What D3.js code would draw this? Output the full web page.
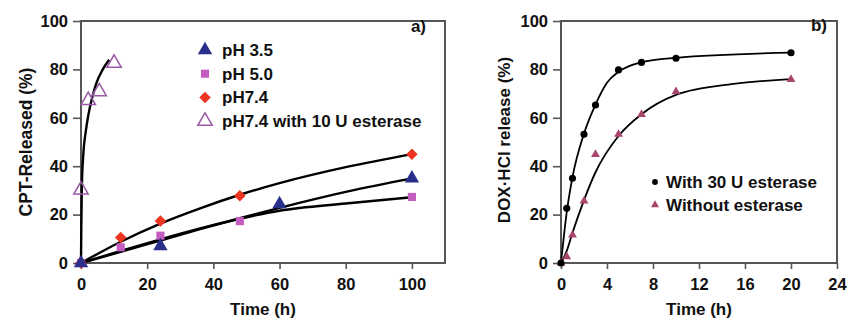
<!DOCTYPE html>
<html>
<head>
<meta charset="utf-8">
<script src="https://cdn.jsdelivr.net/npm/d3@7"></script>
<style>
  body { margin: 0; background: #fff; }
  text { font-family: "Liberation Sans", Arial, sans-serif; font-weight: bold; fill: #111; }
</style>
</head>
<body>
<svg id="chart" width="848" height="322"></svg>
<script>
// panel a) CPT release, time in h
const ph35 = [[0, 0], [24, 7], [60, 24.3], [100, 35]];
const ph50 = [[0, 0], [12, 6.5], [24, 11.3], [48, 17.3], [100, 27.3]];
const ph74 = [[0, 0], [12, 10.5], [24, 17.4], [48, 27.8], [100, 44.9]];
const ph74Est = [[0, 30.2], [2.2, 67.2], [5.5, 70.8], [10, 82.6]];

// fitted curves
const fit35 = [[0, 0], [12, 4.6], [24, 9.3], [36, 14], [48, 18.5], [60, 22.8], [80, 29.4], [100, 35]];
const fit50 = [[0, 0], [12, 5], [24, 9.8], [36, 14.3], [48, 18.3], [60, 21.6], [80, 24.6], [100, 27.2]];
const fit74 = [[0, 0], [12, 8.8], [24, 16.3], [36, 22.6], [48, 28.2], [60, 33], [80, 39.6], [100, 45]];
const fitEst = [[0, 0], [0.1, 16], [0.25, 31], [0.7, 45], [1.4, 54], [2.2, 61], [3.4, 68.5], [4.7, 74.5], [6.5, 79.8], [8.5, 84]];

const legendA = ["pH 3.5", "pH 5.0", "pH7.4", "pH7.4 with 10 U esterase"];
const ticksXA = [0, 20, 40, 60, 80, 100];
const ticksY = [0, 20, 40, 60, 80, 100];

// panel b) DOX·HCl release
const withEst = [[0, 0], [0.5, 22.6], [1, 35], [2, 53.2], [3, 65.3], [5, 79.8], [7, 82.9], [10, 84.6], [20, 86.9]];
const withoutEst = [[0, 0], [0.5, 2.6], [1, 11.6], [2, 25.6], [3, 44.9], [5, 53.2], [7, 61.4], [10, 70.8], [20, 75.9]];
const fitWith = [[0, 0], [0.5, 21], [1, 35.5], [2, 53.5], [3, 65.5], [4, 74.5], [5, 79], [7, 83], [10, 84.8], [20, 86.9]];
const fitWithout = [[0, 0], [0.5, 5], [1, 12.5], [2, 26], [3, 37.5], [5, 52.5], [7, 61.5], [10, 69.5], [15, 74], [20, 76]];
const legendB = ["With 30 U esterase", "Without esterase"];
const ticksXB = [0, 4, 8, 12, 16, 20, 24];

const svg = d3.select("#chart");
const axisColor = "#555";

function frame(g, x, y, xticks, yticks) {
  const [x0, x1] = x.range();
  const [y0, y1] = y.range();
  g.append("rect")
    .attr("x", x0).attr("y", y1)
    .attr("width", x1 - x0).attr("height", y0 - y1)
    .attr("fill", "none").attr("stroke", axisColor).attr("stroke-width", 2);

  const xa = g.append("g").attr("transform", `translate(0,${y0})`)
    .call(d3.axisBottom(x).tickValues(xticks).tickSize(6).tickPadding(9));
  const ya = g.append("g").attr("transform", `translate(${x0},0)`)
    .call(d3.axisLeft(y).tickValues(yticks).tickSize(8).tickPadding(5));
  [xa, ya].forEach(a => {
    a.select(".domain").remove();
    a.selectAll("line").attr("stroke", axisColor).attr("stroke-width", 1.6);
    a.selectAll("text").style("font-size", "16.5px").attr("fill", "#111")
      .style("font-family", '"Liberation Sans", Arial, sans-serif').style("font-weight", "bold");
  });
}

const tri = d3.symbol().type(d3.symbolTriangle);
const sq = d3.symbol().type(d3.symbolSquare);
const circ = d3.symbol().type(d3.symbolCircle);

// ---------- panel a ----------
const xA = d3.scaleLinear().domain([0, 110]).range([81, 445]);
const yA = d3.scaleLinear().domain([0, 100]).range([263, 21]);
const gA = svg.append("g");
frame(gA, xA, yA, ticksXA, ticksY);

const lineA = d3.line().x(d => xA(d[0])).y(d => yA(d[1])).curve(d3.curveMonotoneX);
[fit35, fit50, fit74, fitEst].forEach(f => {
  gA.append("path").attr("d", lineA(f))
    .attr("fill", "none").attr("stroke", "#000").attr("stroke-width", 2.4);
});

// diamonds are squares turned 45 degrees
const seriesA = [
  { data: ph50, sym: sq.size(60), rot: 0, fill: "#c55cc0", stroke: "none" },
  { data: ph74, sym: sq.size(66), rot: 45, fill: "#ec3420", stroke: "none" },
  { data: ph35, sym: tri.size(75), rot: 0, fill: "#2b2f8c", stroke: "none" },
  { data: ph74Est, sym: tri.size(90), rot: 0, fill: "none", stroke: "#9a5aa6" }
];
seriesA.forEach(s => {
  gA.selectAll(null).data(s.data).enter().append("path")
    .attr("d", s.sym)
    .attr("transform", d => `translate(${xA(d[0])},${yA(d[1])}) rotate(${s.rot})`)
    .attr("fill", s.fill).attr("stroke", s.stroke).attr("stroke-width", 1.5);
});

const legOrder = [2, 0, 1, 3];
legendA.forEach((t, i) => {
  const s = seriesA[legOrder[i]];
  const yy = 50 + i * 23.7;
  gA.append("path").attr("d", s.sym)
    .attr("transform", `translate(205,${yy}) rotate(${s.rot})`)
    .attr("fill", s.fill).attr("stroke", s.stroke).attr("stroke-width", 1.5);
  gA.append("text").attr("x", 222).attr("y", yy + 6).style("font-size", "17px").text(t);
});

gA.append("text").attr("x", 426).attr("y", 32).attr("text-anchor", "end")
  .style("font-size", "17px").text("a)");
gA.append("text").attr("x", 263).attr("y", 315).attr("text-anchor", "middle")
  .style("font-size", "17px").text("Time (h)");
gA.append("text").attr("transform", "translate(32,142) rotate(-90)").attr("text-anchor", "middle")
  .style("font-size", "17.5px").text("CPT-Released (%)");

// ---------- panel b ----------
const xB = d3.scaleLinear().domain([0, 24]).range([561, 837]);
const yB = d3.scaleLinear().domain([0, 100]).range([263, 21]);
const gB = svg.append("g");
frame(gB, xB, yB, ticksXB, ticksY);

const lineB = d3.line().x(d => xB(d[0])).y(d => yB(d[1])).curve(d3.curveMonotoneX);
[fitWith, fitWithout].forEach(f => {
  gB.append("path").attr("d", lineB(f))
    .attr("fill", "none").attr("stroke", "#000").attr("stroke-width", 1.8);
});

gB.selectAll(null).data(withoutEst).enter().append("path")
  .attr("d", tri.size(34))
  .attr("transform", d => `translate(${xB(d[0])},${yB(d[1])})`)
  .attr("fill", "#a9456c");
gB.selectAll(null).data(withEst).enter().append("path")
  .attr("d", circ.size(40))
  .attr("transform", d => `translate(${xB(d[0])},${yB(d[1])})`)
  .attr("fill", "#000");

const legSymB = [
  { sym: circ.size(26), fill: "#000" },
  { sym: tri.size(28), fill: "#a9456c" }
];
legendB.forEach((t, i) => {
  const yy = 182 + i * 23;
  gB.append("path").attr("d", legSymB[i].sym)
    .attr("transform", `translate(655,${yy})`).attr("fill", legSymB[i].fill);
  gB.append("text").attr("x", 666).attr("y", yy + 6).style("font-size", "17px").text(t);
});

gB.append("text").attr("x", 827).attr("y", 31).attr("text-anchor", "end")
  .style("font-size", "17px").text("b)");
gB.append("text").attr("x", 699).attr("y", 315).attr("text-anchor", "middle")
  .style("font-size", "17px").text("Time (h)");
gB.append("text").attr("transform", "translate(510,140) rotate(-90)").attr("text-anchor", "middle")
  .style("font-size", "17px").text("DOX·HCl release (%)");
</script>
</body>
</html>
